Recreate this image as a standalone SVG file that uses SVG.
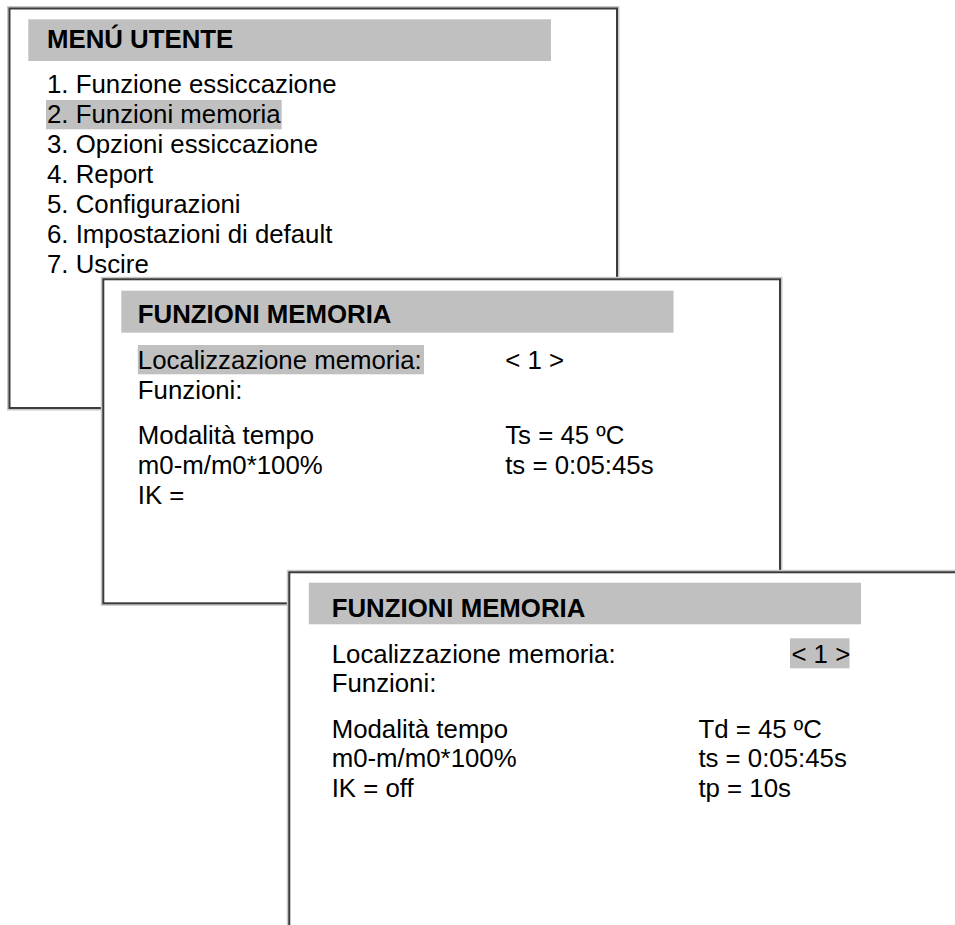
<svg xmlns="http://www.w3.org/2000/svg" width="955" height="925" viewBox="0 0 955 925">
<style>
.frame{fill:#fff;stroke:#3c3c3c;stroke-width:2}
.halo{fill:none;stroke:#c8c8c8;stroke-width:5}
.bar{fill:#c0c0c0}
.hl{fill:#c0c0c0}
text{font-family:"Liberation Sans",Arial,sans-serif;font-size:25.8px;fill:#000}
.title{font-weight:bold}
</style>
<rect width="955" height="925" fill="#fff"/>
<g id="menu-utente">
<rect class="halo" x="9.5" y="8.5" width="607.5" height="399.5"/>
<rect class="frame" x="9.5" y="8.5" width="607.5" height="399.5"/>
<rect class="bar" x="28.3" y="19.3" width="522.7" height="41.7"/>
<text class="title" x="47" y="47.5">MENÚ UTENTE</text>
<rect class="hl" x="46" y="100" width="235.7" height="29.3"/>
<text x="47" y="93.3">1. Funzione essiccazione</text>
<text x="47" y="123.3">2. Funzioni memoria</text>
<text x="47" y="153.3">3. Opzioni essiccazione</text>
<text x="47" y="183.3">4. Report</text>
<text x="47" y="213.3">5. Configurazioni</text>
<text x="47" y="243.3">6. Impostazioni di default</text>
<text x="47" y="273.3">7. Uscire</text>
</g>
<g id="funzioni-memoria-1">
<rect class="halo" x="103.3" y="279.3" width="676.7" height="324"/>
<rect class="frame" x="103.3" y="279.3" width="676.7" height="324"/>
<rect class="bar" x="121.3" y="290.7" width="552.2" height="42"/>
<text class="title" x="137.8" y="322.7">FUNZIONI MEMORIA</text>
<rect class="hl" x="137.8" y="345" width="286.2" height="29.3"/>
<text x="137.8" y="369">Localizzazione memoria:</text>
<text x="505.2" y="369">&lt; 1 &gt;</text>
<text x="137.8" y="398.5">Funzioni:</text>
<text x="137.8" y="444.3">Modalità tempo</text>
<text x="505.2" y="444.3">Ts = 45 ºC</text>
<text x="137.8" y="474">m0-m/m0*100%</text>
<text x="505.2" y="474">ts = 0:05:45s</text>
<text x="137.8" y="503.5">IK =</text>
</g>
<g id="funzioni-memoria-2">
<rect class="halo" x="289.3" y="572.3" width="700" height="400"/>
<rect class="frame" x="289.3" y="572.3" width="700" height="400"/>
<rect class="bar" x="308.8" y="582.7" width="552.2" height="41.6"/>
<text class="title" x="331.7" y="616.7">FUNZIONI MEMORIA</text>
<text x="331.7" y="662.7">Localizzazione memoria:</text>
<rect class="hl" x="790" y="638.3" width="59.5" height="30"/>
<text x="791.4" y="662.7">&lt; 1 &gt;</text>
<text x="331.7" y="692.3">Funzioni:</text>
<text x="331.7" y="737.7">Modalità tempo</text>
<text x="698.4" y="737.7">Td = 45 ºC</text>
<text x="331.7" y="767.3">m0-m/m0*100%</text>
<text x="698.4" y="767.3">ts = 0:05:45s</text>
<text x="331.7" y="796.7">IK = off</text>
<text x="698.4" y="796.7">tp = 10s</text>
</g>
<g id="connectors"></g>
</svg>
